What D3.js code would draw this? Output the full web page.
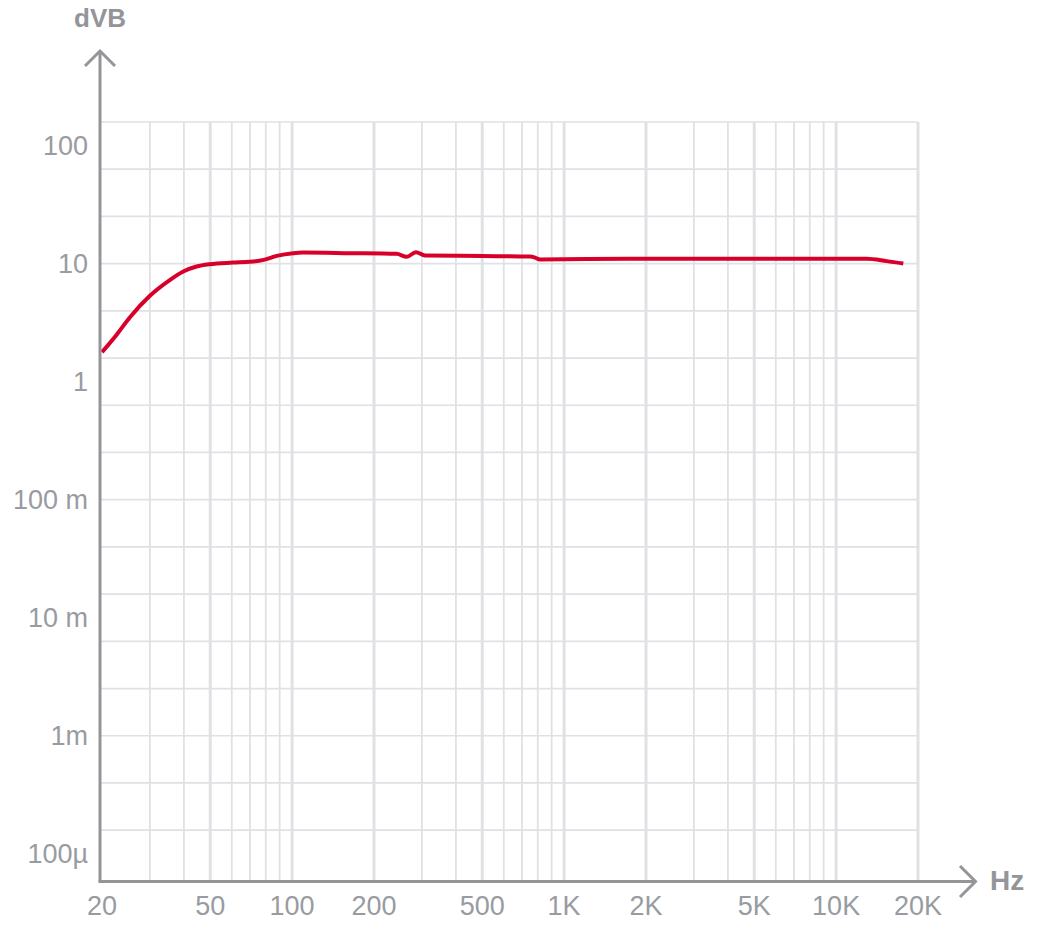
<!DOCTYPE html>
<html>
<head>
<meta charset="utf-8">
<script src="https://cdn.jsdelivr.net/npm/d3@7"></script>
<style>
  html, body { margin: 0; padding: 0; background: #ffffff; }
  svg { display: block; }
</style>
</head>
<body>
<svg id="chart" width="1042" height="943"></svg>
<script>
// ---- data ----
const freqHz = [20, 22.6, 25.3, 30, 35.6, 39.8, 44.5, 49.8, 60.5, 70, 78.6, 87.8, 101, 109.6, 163, 242, 264, 285, 308, 500, 749, 782, 815, 1746, 5000, 12240, 12950, 15340, 17660];
const dvbValue = [1.78, 2.49, 3.5, 5.34, 7.29, 8.57, 9.45, 9.9, 10.2, 10.36, 10.77, 11.64, 12.27, 12.41, 12.27, 12.1, 11.42, 12.51, 11.71, 11.6, 11.48, 11.26, 10.83, 11.0, 11.0, 10.98, 10.98, 10.5, 10.02];

const xTickValues = [20, 50, 100, 200, 500, 1000, 2000, 5000, 10000, 20000];
const xTickLabels = ["20", "50", "100", "200", "500", "1K", "2K", "5K", "10K", "20K"];
const xMinorGrid = [30, 40, 60, 70, 80, 90, 300, 400, 600, 700, 800, 900, 3000, 4000, 6000, 7000, 8000, 9000];
const yTickValues = [100, 10, 1, 0.1, 0.01, 0.001, 0.0001];
const yTickLabels = ["100", "10", "1", "100 m", "10 m", "1m", "100\u00b5"];
const yGridExponents = [2.2, 1.8, 1.4, 1.0, 0.6, 0.2, -0.2, -0.6, -1.0, -1.4, -1.8, -2.2, -2.6, -3.0, -3.4, -3.8];
const xAxisTitle = "Hz";
const yAxisTitle = "dVB";

// ---- layout ----
const axisColor = "#939598";
const gridColor = "#e0e1e5";
const labelColor = "#989ba1";
const lineColor = "#d8002b";

const svg = d3.select("#chart");

const x = d3.scaleLog().domain([20, 20000]).range([102, 918]);
const y = d3.scaleLog().domain([Math.pow(10, -4.235), Math.pow(10, 2.2)]).range([881.5, 122]);

const gridTop = y(Math.pow(10, 2.2));
const gridBottom = 881.5;
const axisX = 100;

// horizontal grid
svg.append("g").selectAll("line")
  .data(yGridExponents)
  .join("line")
  .attr("x1", axisX).attr("x2", x(20000))
  .attr("y1", d => y(Math.pow(10, d))).attr("y2", d => y(Math.pow(10, d)))
  .attr("stroke", gridColor).attr("stroke-width", 1.7);

// vertical minor grid
svg.append("g").selectAll("line")
  .data(xMinorGrid)
  .join("line")
  .attr("x1", d => x(d)).attr("x2", d => x(d))
  .attr("y1", gridTop).attr("y2", gridBottom)
  .attr("stroke", gridColor).attr("stroke-width", 1.8);

// vertical major grid
svg.append("g").selectAll("line")
  .data(xTickValues.filter(d => d !== 20))
  .join("line")
  .attr("x1", d => x(d)).attr("x2", d => x(d))
  .attr("y1", gridTop).attr("y2", gridBottom)
  .attr("stroke", gridColor).attr("stroke-width", 3);

// data line
const line = d3.line()
  .x((d, i) => x(freqHz[i]))
  .y(d => y(d))
  .curve(d3.curveMonotoneX);

svg.append("path")
  .datum(dvbValue)
  .attr("d", line)
  .attr("fill", "none")
  .attr("stroke", lineColor)
  .attr("stroke-width", 4)
  .attr("stroke-linejoin", "round")
  .attr("stroke-linecap", "butt");

// axes
const axisG = svg.append("g").attr("stroke", axisColor).attr("stroke-width", 3).attr("fill", "none")
  .attr("stroke-linecap", "butt").attr("stroke-linejoin", "miter");
axisG.append("path").attr("d", `M${axisX},${gridBottom} L${axisX},51`);
axisG.append("path").attr("d", `M${axisX - 15},66 L${axisX},51 L${axisX + 15},66`);
axisG.append("path").attr("d", `M${axisX - 1.5},${gridBottom} L976,${gridBottom}`);
axisG.append("path").attr("d", `M960,${gridBottom - 15.5} L975.5,${gridBottom} L960,${gridBottom + 15.5}`);

// y tick labels
svg.append("g").selectAll("text")
  .data(yTickValues)
  .join("text")
  .attr("x", 88)
  .attr("y", d => y(d))
  .attr("dy", "0.35em")
  .attr("text-anchor", "end")
  .attr("font-family", "'Liberation Sans', Arial, sans-serif")
  .attr("font-size", 27)
  .attr("fill", labelColor)
  .text((d, i) => yTickLabels[i]);

// x tick labels
svg.append("g").selectAll("text")
  .data(xTickValues)
  .join("text")
  .attr("x", d => x(d))
  .attr("y", 906)
  .attr("dy", "0.35em")
  .attr("text-anchor", "middle")
  .attr("font-family", "'Liberation Sans', Arial, sans-serif")
  .attr("font-size", 27)
  .attr("fill", labelColor)
  .text((d, i) => xTickLabels[i]);

// axis titles
svg.append("text")
  .attr("x", 100).attr("y", 27)
  .attr("text-anchor", "middle")
  .attr("font-family", "'Liberation Sans', Arial, sans-serif")
  .attr("font-weight", "bold")
  .attr("font-size", 26)
  .attr("fill", axisColor)
  .text(yAxisTitle);

svg.append("text")
  .attr("x", 990).attr("y", 890)
  .attr("text-anchor", "start")
  .attr("font-family", "'Liberation Sans', Arial, sans-serif")
  .attr("font-weight", "bold")
  .attr("font-size", 28)
  .attr("fill", axisColor)
  .text(xAxisTitle);
</script>
</body>
</html>
